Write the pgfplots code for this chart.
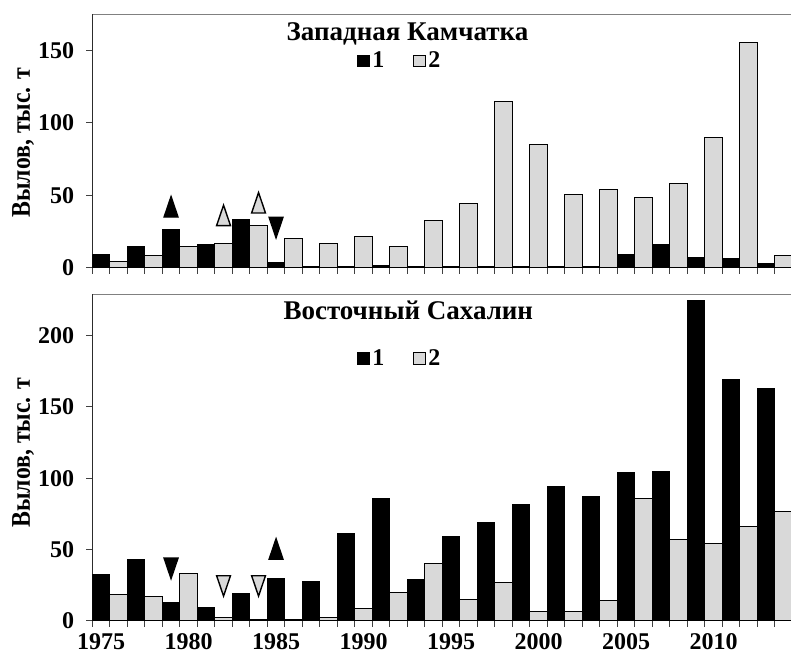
\documentclass[border=0pt]{standalone}
\usepackage{fontspec}
\setmainfont{Liberation Serif}
\newfontfamily\labelfont[FakeStretch=0.88]{Liberation Serif}
\usepackage{pgfplots}
\pgfplotsset{compat=1.18}

\definecolor{barfill}{HTML}{D9D9D9}
\definecolor{framegray}{HTML}{808080}

\pgfplotsset{
  sqbar/.style={ybar, bar width=1, bar shift=0pt, line width=0.5pt,
    legend image code/.code={\draw[##1, line width=0.5pt] (0pt,-2.9pt) rectangle (6pt,2.9pt);}},
  oddgen/.style={sqbar, fill=black, draw=black},
  evengen/.style={sqbar, fill=barfill, draw=black},
  upmark/.style={only marks, mark=triangle*, mark size=4pt,
    mark options={yscale=1.7, line width=0.7pt}},
  downmark/.style={only marks, mark=triangle*, mark size=4pt,
    mark options={yscale=-1.7, line width=0.7pt}},
  salmon/.style={
    scale only axis, width=350pt,
    xmin=1974.5, xmax=2014.5, ymin=0,
    axis line style={draw=framegray, line width=0.6pt},
    tick align=outside,
    xtick pos=lower, ytick pos=left,
    xtick={1975,1980,...,2010},
    minor xtick={1974.5,1975.5,...,2014.5},
    major x tick style={draw=none},
    minor x tick style={draw=black!75, line width=0.5pt},
    major y tick style={draw=black!75, line width=0.5pt},
    major tick length=3pt, minor tick length=3pt,
    tick label style={font=\fontsize{12}{14}\selectfont\bfseries},
    yticklabel style={xshift=-2.5pt},
    /pgf/number format/assume math mode=true,
    /pgf/number format/set thousands separator={},
    ylabel={Вылов, тыс. т},
    ylabel style={anchor=base,
      font=\labelfont\fontsize{13.5}{16}\selectfont\bfseries},
    every axis title shift=0pt,
    title style={anchor=base, font=\fontsize{13.5}{16}\selectfont\bfseries},
    legend style={draw=none, fill=none, anchor=center, inner sep=0pt,
      legend columns=2, font=\fontsize{12}{14}\selectfont\bfseries,
      nodes={inner sep=1pt},
      /tikz/every even column/.append style={column sep=13.5pt}},
  },
}

% catch of the odd-year and even-year generations, thousand tonnes
\pgfplotstableread{
year catch
1975 8.8
1977 14.5
1979 26.1
1981 16.2
1983 33.2
1985 3.7
1987 0.8
1989 0.8
1991 1.4
1993 0.8
1995 0.8
1997 0.8
1999 0.8
2001 0.8
2003 0.8
2005 8.8
2007 15.7
2009 7.2
2011 6.5
2013 2.6
}\kamOdd
\pgfplotstableread{
year catch
1976 4.4
1978 8.3
1980 14.5
1982 16.9
1984 29.3
1986 20.1
1988 16.9
1990 21.7
1992 14.5
1994 32.5
1996 44.1
1998 114.5
2000 85.2
2002 50.3
2004 54.0
2006 48.7
2008 58.2
2010 90.0
2012 155.8
2014 8.3
}\kamEven
\pgfplotstableread{
year catch
1975 32.6
1977 42.6
1979 12.7
1981 9.6
1983 19.2
1985 29.3
1987 27.2
1989 60.9
1991 86.0
1993 28.6
1995 59.3
1997 68.6
1999 81.2
2001 93.9
2003 86.9
2005 104.2
2007 104.9
2009 224.7
2011 169.5
2013 163.2
}\sakOdd
\pgfplotstableread{
year catch
1976 18.3
1978 17.3
1980 33.3
1982 2.4
1984 1.0
1986 0.5
1988 1.9
1990 8.7
1992 19.9
1994 40.3
1996 15.0
1998 27.0
2000 6.6
2002 6.6
2004 14.3
2006 86.0
2008 56.7
2010 54.4
2012 66.0
2014 76.5
}\sakEven

\begin{document}
\begin{tikzpicture}
% Western Kamchatka
\begin{axis}[salmon,
  at={(46.15pt,-7.15pt)}, anchor=north west,
  height=126.7pt, ymax=175, ytick={0,50,100,150},
  xticklabels={},
  ylabel style={at={(axis description cs:-0.089,0.494)}},
  title={Западная Камчатка},
  title style={at={(axis description cs:0.4503,0.8958)}},
  legend style={at={(axis description cs:0.4395,0.8157)}},
]
\addplot[oddgen] table[x=year, y=catch] {\kamOdd};
\addlegendentry{1}
\addplot[evengen] table[x=year, y=catch] {\kamEven};
\addlegendentry{2}
\addplot[upmark, fill=black, draw=black, forget plot] coordinates {(1979,39.7)};
\addplot[upmark, fill=barfill, draw=black, forget plot] coordinates {(1982,33.8) (1984,42.5)};
\addplot[downmark, fill=black, draw=black, forget plot] coordinates {(1985,30.1)};
\draw[black, line width=0.6pt] (rel axis cs:0,1) -- (rel axis cs:0,0) -- (rel axis cs:1,0);
\end{axis}
% Eastern Sakhalin
\begin{axis}[salmon,
  at={(46.15pt,-147.15pt)}, anchor=north west,
  height=163.2pt, ymax=229, ytick={0,50,100,150,200},
  ylabel style={at={(axis description cs:-0.089,0.515)}},
  title={Восточный Сахалин},
  title style={at={(axis description cs:0.4514,0.9213)}},
  legend style={at={(axis description cs:0.4395,0.803)}},
]
\addplot[oddgen] table[x=year, y=catch] {\sakOdd};
\addlegendentry{1}
\addplot[evengen] table[x=year, y=catch] {\sakEven};
\addlegendentry{2}
\addplot[downmark, fill=black, draw=black, forget plot] coordinates {(1979,39.1)};
\addplot[downmark, fill=barfill, draw=black, forget plot] coordinates {(1982,26.8) (1984,26.8)};
\addplot[upmark, fill=black, draw=black, forget plot] coordinates {(1985,47.9)};
\draw[black, line width=0.6pt] (rel axis cs:0,1) -- (rel axis cs:0,0) -- (rel axis cs:1,0);
\end{axis}
\pgfresetboundingbox
\path[use as bounding box] (0pt,0pt) rectangle (395.5pt,-328.5pt);
\end{tikzpicture}
\end{document}
